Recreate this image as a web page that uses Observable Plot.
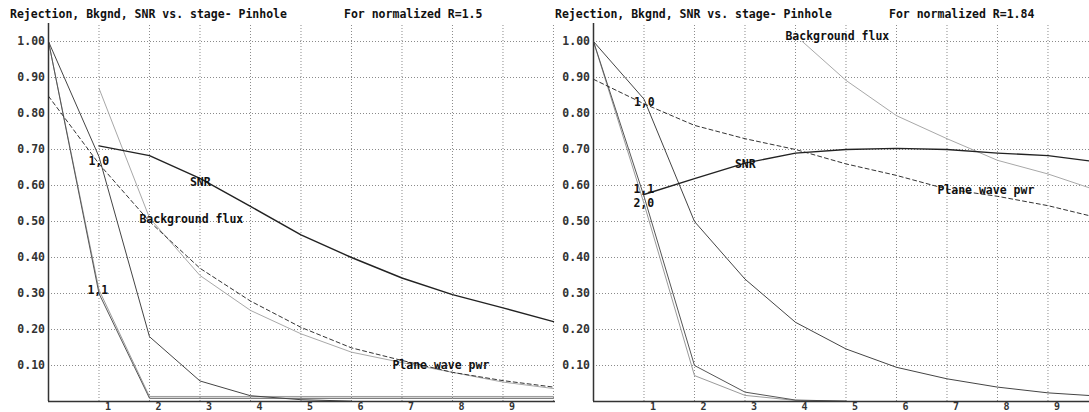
<!DOCTYPE html>
<html>
<head>
<meta charset="utf-8">
<script src="https://cdn.jsdelivr.net/npm/d3@7"></script>
<script src="https://cdn.jsdelivr.net/npm/@observablehq/plot@0.6"></script>
<style>
  html, body { margin: 0; padding: 0; background: #fff; }
  #wrap { position: relative; width: 1089px; height: 412px; overflow: hidden; background: #fff; }
  .panel { position: absolute; top: 0; width: 545px; height: 412px; background: #fff; overflow: hidden; }
  .ttl { position: absolute; top: 7px; line-height: 14px; font: bold 11.5px 'DejaVu Sans Mono', monospace; color: #111; white-space: pre; }
  .svgbox { position: absolute; top: 22px; left: 0; }
</style>
</head>
<body>
<div id="wrap"></div>
<script>
// ---- data ----
const stage = [0, 1, 2, 3, 4, 5, 6, 7, 8, 9, 10];
const xTicks = [1, 2, 3, 4, 5, 6, 7, 8, 9];
const xGrid = [1, 2, 3, 4, 5, 6, 7, 8, 9, 10];
const yTicks = [0.1, 0.2, 0.3, 0.4, 0.5, 0.6, 0.7, 0.8, 0.9, 1.0];

const titleMain = "Rejection, Bkgnd, SNR vs. stage- Pinhole";
const titleL = "For normalized R=1.5";
const titleR = "For normalized R=1.84";

// Left panel (R = 1.5)
const snrL    = [null, 0.71, 0.683, 0.62, 0.542, 0.463, 0.40, 0.343, 0.297, 0.26, 0.222];
const planeL  = [0.848, 0.66, 0.50, 0.37, 0.279, 0.206, 0.149, 0.114, 0.081, 0.058, 0.04];
const bkgL    = [null, 0.87, 0.51, 0.35, 0.253, 0.188, 0.137, 0.108, 0.081, 0.054, 0.036];
const mode10L = [1.0, 0.68, 0.18, 0.057, 0.016, 0.005, 0.001, null, null, null, null];
const mode11L = [1.0, 0.30, 0.009, 0.009, 0.009, 0.009, 0.009, 0.009, 0.009, 0.009, 0.009];
const mode20L = [1.0, 0.31, 0.014, 0.014, 0.014, 0.014, 0.014, 0.014, 0.014, 0.014, 0.014];
const labelTextL = ["1,0", "SNR", "Background flux", "1,1", "Plane wave pwr"];
const labelXL    = [0.79, 2.80, 1.80, 0.77, 6.81];
const labelYL    = [0.667, 0.609, 0.505, 0.308, 0.10];

// Right panel (R = 1.84)
const snrR    = [null, 0.575, 0.619, 0.662, 0.69, 0.70, 0.703, 0.70, 0.69, 0.683, 0.665];
const planeR  = [0.895, 0.827, 0.767, 0.73, 0.70, 0.66, 0.628, 0.59, 0.57, 0.544, 0.51];
const bkgR    = [null, null, null, null, 1.017, 0.892, 0.794, 0.73, 0.67, 0.632, 0.585];
const mode10R = [1.0, 0.84, 0.50, 0.34, 0.22, 0.146, 0.095, 0.063, 0.04, 0.024, 0.015];
const mode11R = [1.0, 0.57, 0.10, 0.026, 0.004, 0.001, null, null, null, null, null];
const mode20R = [1.0, 0.55, 0.072, 0.017, 0.003, 0.001, null, null, null, null, null];
const labelTextR = ["1,0", "SNR", "1,1", "2,0", "Plane wave pwr", "Background flux"];
const labelXR    = [0.80, 2.80, 0.79, 0.79, 6.81, 3.80];
const labelYR    = [0.831, 0.66, 0.59, 0.551, 0.586, 1.014];

// ---- drawing ----
const FONT = "'DejaVu Sans Mono', monospace";

function makePanel(left, subtitle, series, labels) {
  const wrap = document.getElementById("wrap");
  const panel = document.createElement("div");
  panel.className = "panel";
  panel.style.left = left + "px";
  const t1 = document.createElement("div");
  t1.className = "ttl"; t1.style.left = "0px"; t1.textContent = titleMain;
  const t2 = document.createElement("div");
  t2.className = "ttl"; t2.style.left = "334px"; t2.textContent = subtitle;
  panel.appendChild(t1); panel.appendChild(t2);

  const rows = stage.map((s, i) => ({
    stage: s,
    snr: series.snr[i], plane: series.plane[i], bkg: series.bkg[i],
    m10: series.m10[i], m11: series.m11[i], m20: series.m20[i]
  }));
  const labs = labels.text.map((t, i) => ({t, x: labels.x[i], y: labels.y[i]}));
  const grid = {stroke: "#8a8a8a", strokeWidth: 1, strokeDasharray: "1,2"};

  const chart = Plot.plot({
    width: 545, height: 390,
    marginLeft: 38, marginRight: 0, marginTop: 19, marginBottom: 11,
    x: {domain: [0, 10.04]},
    y: {domain: [0, 1]},
    style: {fontFamily: FONT, fontSize: "11.5px", fontWeight: "bold", background: "white", color: "#111", overflow: "visible"},
    marks: [
      Plot.ruleY(yTicks, grid),
      Plot.ruleX(xGrid, {x: d => d, y1: 0, y2: 1.05, ...grid}),
      Plot.line(rows, {x: "stage", y: "bkg", stroke: "#a8a8a8", strokeWidth: 1, clip: true}),
      Plot.line(rows, {x: "stage", y: "m20", stroke: "#9a9a9a", strokeWidth: 1, clip: true}),
      Plot.line(rows, {x: "stage", y: "m11", stroke: "#555", strokeWidth: 1, clip: true}),
      Plot.line(rows, {x: "stage", y: "m10", stroke: "#444", strokeWidth: 1, clip: true}),
      Plot.line(rows, {x: "stage", y: "plane", stroke: "#333", strokeWidth: 1, strokeDasharray: "4,3", clip: true}),
      Plot.line(rows, {x: "stage", y: "snr", stroke: "#222", strokeWidth: 1.4, clip: true}),
      Plot.ruleX([0], {y1: 0, y2: 1.05, stroke: "#333", strokeWidth: 1.5}),
      Plot.ruleY([0], {stroke: "#333", strokeWidth: 1.5}),
      Plot.axisX({ticks: xTicks, tickSize: 0, tickPadding: 1, dx: 9, fontSize: 10, tickFormat: d => String(d), label: null, fill: "#333"}),
      Plot.axisY({ticks: yTicks, tickSize: 0, tickPadding: 3.5, tickFormat: d3.format(".2f"), label: null, fill: "#333"}),
      Plot.text(labs, {x: "x", y: "y", text: "t", textAnchor: "start", fill: "#111", fontFamily: FONT, fontSize: 11.5, fontWeight: "bold"})
    ]
  });
  const box = document.createElement("div");
  box.className = "svgbox";
  box.appendChild(chart);
  panel.appendChild(box);
  wrap.appendChild(panel);
}

makePanel(10, titleL,
  {snr: snrL, plane: planeL, bkg: bkgL, m10: mode10L, m11: mode11L, m20: mode20L},
  {text: labelTextL, x: labelXL, y: labelYL});
makePanel(555, titleR,
  {snr: snrR, plane: planeR, bkg: bkgR, m10: mode10R, m11: mode11R, m20: mode20R},
  {text: labelTextR, x: labelXR, y: labelYR});
</script>
</body>
</html>
